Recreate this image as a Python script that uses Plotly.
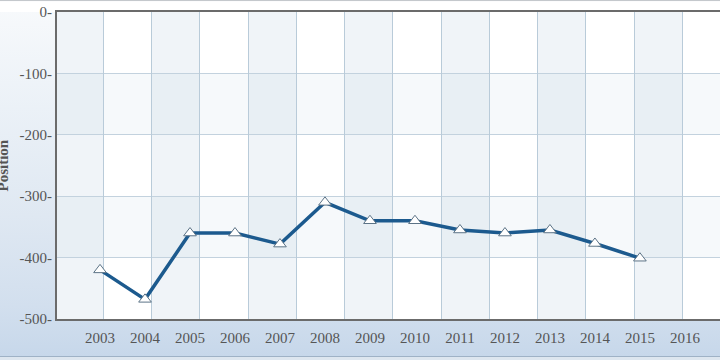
import base64
import plotly.graph_objects as go

years = [2003, 2004, 2005, 2006, 2007, 2008, 2009, 2010, 2011, 2012, 2013, 2014, 2015]
position = [-420, -468, -360, -360, -378, -310, -340, -340, -355, -360, -355, -377, -401]
tick_years = [2003, 2004, 2005, 2006, 2007, 2008, 2009, 2010, 2011, 2012, 2013, 2014, 2015, 2016]
y_ticks = [0, -100, -200, -300, -400, -500]

W, H = 720, 360
L, R, T, B = 57, 0, 12, 41

font_family = "Liberation Serif, Times New Roman, serif"

pw = W - L - R
ph = H - T - B

# background gradient as an inline svg image (plot area left white)
svg = f'''<svg xmlns="http://www.w3.org/2000/svg" width="{W}" height="{H}" viewBox="0 0 {W} {H}" preserveAspectRatio="none">
<defs><linearGradient id="g" x1="0" y1="0" x2="0" y2="1">
<stop offset="0" stop-color="#f8fafc"/>
<stop offset="0.3" stop-color="#ebf1f7"/>
<stop offset="0.6" stop-color="#dfe8f2"/>
<stop offset="0.85" stop-color="#d2dfee"/>
<stop offset="1" stop-color="#c6d7ea"/>
</linearGradient></defs>
<rect x="0" y="0" width="{W}" height="{H}" fill="url(#g)"/>
<rect x="0" y="0" width="{W}" height="1.2" fill="#c4c8cc"/>
<rect x="0" y="1.2" width="{W}" height="{T - 1.2}" fill="#ffffff"/>
<rect x="{L}" y="{T}" width="{pw}" height="{ph}" fill="#ffffff"/>
<rect x="0" y="356" width="{W}" height="1" fill="#9fb2c6"/>
<rect x="0" y="357" width="{W}" height="3" fill="#dde6ef"/>
</svg>'''
src = "data:image/svg+xml;base64," + base64.b64encode(svg.encode()).decode()

fig = go.Figure()
fig.add_trace(go.Scatter(
    x=years, y=position, mode="lines+markers",
    line=dict(color="#1c5a8e", width=3.5),
    marker=dict(symbol="triangle-up", size=11, color="white",
                line=dict(color="#5c7386", width=1)),
    hoverinfo="x+y", showlegend=False,
))

shapes = []
# column bands (x2 units: one unit per grid column)
for k in range(0, 14, 2):
    shapes.append(dict(type="rect", xref="x2", yref="paper", x0=k, x1=k + 1, y0=0, y1=1,
                       fillcolor="rgba(185,207,224,0.22)", line=dict(width=0), layer="below"))
# row bands
for k in range(1, len(y_ticks) - 1, 2):
    shapes.append(dict(type="rect", xref="paper", yref="y", x0=0, x1=1,
                       y0=y_ticks[k + 1], y1=y_ticks[k],
                       fillcolor="rgba(185,207,224,0.12)", line=dict(width=0), layer="below"))

fig.update_layout(
    width=W, height=H,
    margin=dict(l=L, r=R, t=T, b=B, pad=0, autoexpand=False),
    paper_bgcolor="rgba(0,0,0,0)",
    plot_bgcolor="rgba(0,0,0,0)",
    images=[dict(source=src, xref="paper", yref="paper",
                 x=-L / pw, y=1 + T / ph, sizex=W / pw, sizey=H / ph,
                 xanchor="left", yanchor="top", sizing="stretch", layer="below")],
    shapes=shapes,
    font=dict(family=font_family, color="#555555", size=15),
    xaxis=dict(
        range=[2002.044, 2016.78], tickmode="array", tickvals=tick_years,
        ticktext=[str(t) for t in tick_years], automargin=False,
        showgrid=False, zeroline=False,
        showline=True, linecolor="#6b6b6b", linewidth=2, mirror=True,
        ticks="outside", ticklen=4, tickcolor="rgba(0,0,0,0)",
        tickfont=dict(size=15, color="#555555", family=font_family),
    ),
    xaxis2=dict(
        overlaying="x", anchor="y", range=[0.04, 13.78], tick0=0, dtick=1,
        showgrid=True, gridcolor="#b9cbd9", gridwidth=1, automargin=False,
        showticklabels=False, ticks="", zeroline=False, showline=False,
    ),
    yaxis=dict(
        range=[-500, 0], tickmode="array", tickvals=y_ticks, automargin=False,
        ticktext=[f"{v}-" for v in y_ticks],
        showgrid=True, gridcolor="#c3d2de", gridwidth=1, zeroline=False,
        showline=True, linecolor="#6b6b6b", linewidth=2,
        ticks="", tickfont=dict(size=15, color="#555555", family=font_family),
    ),
    annotations=[dict(text="<b>Position</b>", textangle=-90, xref="paper", yref="paper",
                      x=0, y=0.5, xshift=-55, xanchor="center", yanchor="middle",
                      showarrow=False, font=dict(size=15, color="#555555", family=font_family))],
)

fig.write_html("out.html", config={"displayModeBar": False},
               post_script="document.body.style.margin='0';document.body.style.overflow='hidden';")
